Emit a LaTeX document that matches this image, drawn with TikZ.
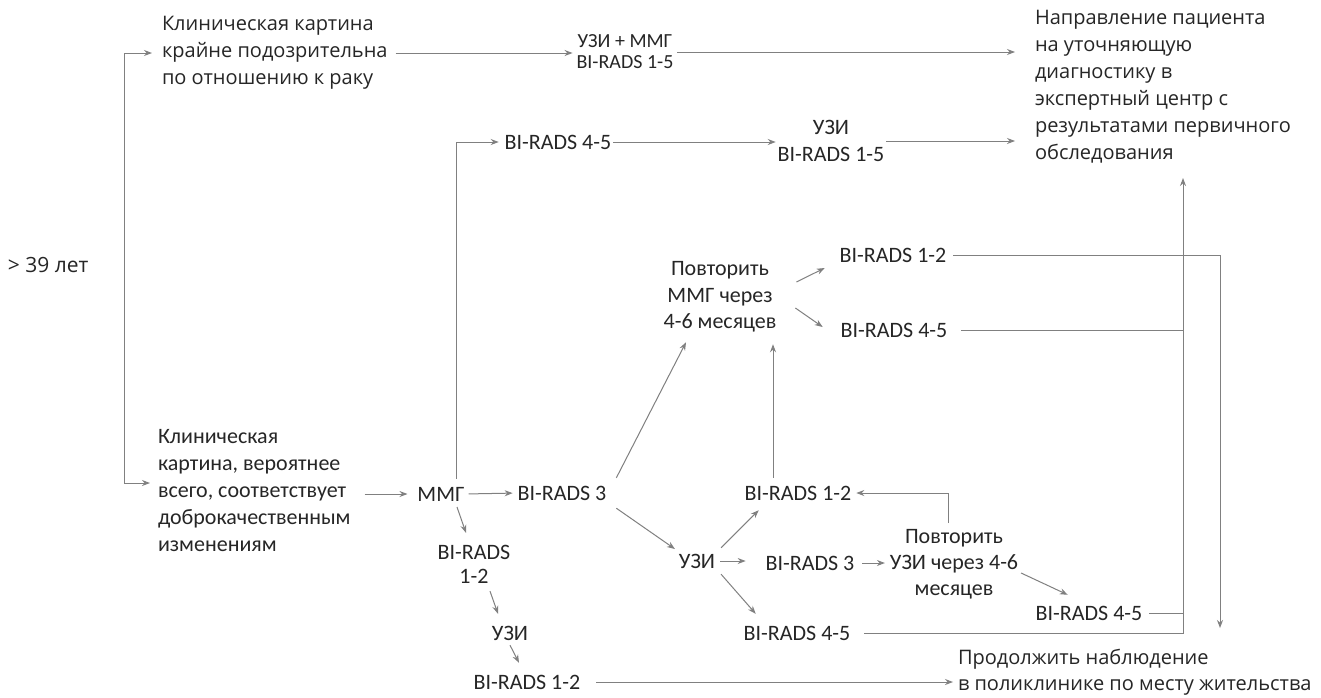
\documentclass[tikz,border=0pt]{standalone}
\usepackage{fontspec}
\newfontfamily\osans{Open Sans}
\newfontfamily\calib{Carlito}
\usetikzlibrary{arrows.meta}
\tikzset{
  base/.style={inner sep=0pt, outer sep=0pt, text=black!85},
  cal/.style={base, font=\calib\fontsize{11}{13.5}\selectfont, align=center},
  ops/.style={base, font=\osans\fontsize{10}{13.5}\selectfont, align=left},
  con/.style={draw=black!50, line width=0.5pt},
  arr/.style={con, -{Stealth[length=4pt,width=3pt]}},
}
\begin{document}
\begin{tikzpicture}[x=0.5pt,y=-0.5pt]
\fill[white] (0,0) rectangle (1321,697);
\useasboundingbox (0,0) rectangle (1321,697);

% nodes
\node[ops, anchor=west, font=\osans\fontsize{10.5}{13.5}\selectfont] (age) at (8,265) {> 39 лет};
\node[ops, anchor=west] (susp) at (162,53) {Клиническая картина\\крайне подозрительна\\по отношению к раку};
\node[cal, font=\calib\fontsize{10}{10.5}\selectfont] (usmmg) at (625,52) {УЗИ + ММГ\\BI-RADS 1-5};
\node[ops, anchor=west] (dir) at (1035,87) {Направление пациента\\на уточняющую\\диагностику в\\экспертный центр с\\результатами первичного\\обследования};
\node[cal, align=left, anchor=west] (benign) at (158,491) {Клиническая\\картина, вероятнее\\всего, соответствует\\доброкачественным\\изменениям};
\node[cal] (mmg) at (441,494) {ММГ};
\node[cal] (bi3) at (562,493) {BI-RADS 3};
\node[cal, font=\calib\fontsize{11}{12}\selectfont] (bi12a) at (474,564) {BI-RADS\\1-2};
\node[cal] (uziL) at (510,633) {УЗИ};
\node[cal] (bi12b) at (527,682) {BI-RADS 1-2};
\node[cal] (bi45top) at (558,142) {BI-RADS 4-5};
\node[cal] (uzitop) at (831,141) {УЗИ\\BI-RADS 1-5};
\node[cal, font=\calib\fontsize{11}{13.2}\selectfont] (rptM) at (720,297) {Повторить\\ММГ через\\4-6 месяцев};
\node[cal] (bi12r) at (893,255) {BI-RADS 1-2};
\node[cal] (bi45r2) at (894,330) {BI-RADS 4-5};
\node[cal] (uziM) at (697,561) {УЗИ};
\node[cal] (bi12m) at (798,493) {BI-RADS 1-2};
\node[cal] (bi3m) at (810,563) {BI-RADS 3};
\node[cal] (bi45m) at (797,633) {BI-RADS 4-5};
\node[cal, font=\calib\fontsize{11}{13}\selectfont] (rptU) at (954,564) {Повторить\\УЗИ через 4-6\\месяцев};
\node[cal] (bi45r) at (1089,613) {BI-RADS 4-5};
\node[ops, anchor=west, font=\osans\fontsize{10}{13}\selectfont] (prod) at (958,672) {Продолжить наблюдение\\в поликлинике по месту жительства};

% left fork
\coordinate (ft) at (124,53);
\coordinate (fb) at (124,483);
\draw[con] (ft) -- (fb);
\draw[arr, shorten >=5pt] (ft) -- (ft -| susp.west);
\draw[arr, shorten >=4pt] (fb) -- (fb -| benign.west);

% top row
\draw[arr, shorten <=4pt, shorten >=2pt] (susp.east) -- (susp.east -| usmmg.west);
\draw[arr, shorten <=2pt, shorten >=10pt] (usmmg.east) -- (usmmg.east -| dir.west);
\draw[arr, shorten >=3pt] ([xshift=7.5pt,yshift=4pt]mmg.north) |- (bi45top.west);
\draw[arr, shorten <=1pt, shorten >=1pt] (bi45top.east) -- (bi45top.east -| uzitop.west);
\draw[arr, shorten <=1pt, shorten >=10pt] (uzitop.east) -- (uzitop.east -| dir.west);

% lower left
\draw[arr, shorten <=7pt, shorten >=5pt] (benign.east |- mmg.west) -- (mmg.west);
\draw[arr, shorten <=2pt, shorten >=2.5pt] (mmg.east) -- (bi3.west);
\draw[arr] ([xshift=8pt,yshift=-3pt]mmg.south) -- ([xshift=-4pt,yshift=6pt]bi12a.north);
\draw[arr] ([xshift=8pt,yshift=-4pt]bi12a.south) -- ([xshift=-6pt,yshift=6pt]uziL.north);
\draw[arr] ([yshift=-2.5pt]uziL.south) -- ([xshift=-4pt,yshift=6pt]bi12b.north);
\draw[arr, shorten <=8pt, shorten >=2.5pt] (bi12b.east) -- (bi12b.east -| prod.west);

% BI-RADS 3 branches
\draw[arr] ([xshift=5pt,yshift=4pt]bi3.north east) -- ([xshift=-17pt,yshift=-5pt]rptM.south);
\draw[arr] ([xshift=5pt,yshift=-4pt]bi3.south east) -- ([xshift=-2pt,yshift=6pt]uziM.west);
\draw[arr] ([xshift=3pt,yshift=3pt]uziM.north east) -- ([xshift=7pt,yshift=-5pt]bi12m.south west);
\draw[arr, shorten <=2.5pt, shorten >=10pt] (uziM.east) -- (uziM.east -| bi3m.west);
\draw[arr] ([xshift=3pt,yshift=-3pt]uziM.south east) -- ([xshift=6pt,yshift=6pt]bi45m.north west);
\coordinate (vm) at ([xshift=-12.5pt]bi12m.north);
\draw[arr, shorten <=4pt, shorten >=6pt] (vm) -- (vm |- rptM.south);
\draw[arr, shorten <=4pt, shorten >=2.5pt] (bi3m.east) -- (bi3m.east -| rptU.west);
\coordinate (vu) at ([xshift=-3pt]rptU.north);
\draw[arr, shorten <=3pt, shorten >=2.5pt] (vu) |- (bi12m.east);
\draw[arr] ([xshift=1.5pt,yshift=-4.5pt]rptU.east) -- ([xshift=16pt,yshift=5.5pt]bi45r.north west);

% right collectors
\coordinate (vtop) at (1183,178);
\draw[arr, shorten <=7pt] (bi45m.east) -| (vtop);
\draw[con, shorten <=3.5pt] (bi45r.east) -- (bi45r.east -| vtop);
\draw[con, shorten <=7pt] (bi45r2.east) -- (bi45r2.east -| vtop);
\coordinate (rbot) at (1220,628);
\draw[arr, shorten <=3.5pt] (bi12r.east) -| (rbot);
\draw[arr] ([xshift=10pt,yshift=7.5pt]rptM.east) -- ([xshift=-7.5pt,yshift=-6.5pt]bi12r.west);
\draw[arr] ([xshift=9.5pt,yshift=-5.5pt]rptM.east) -- ([xshift=-9pt,yshift=1.5pt]bi45r2.west);
\end{tikzpicture}
\end{document}
